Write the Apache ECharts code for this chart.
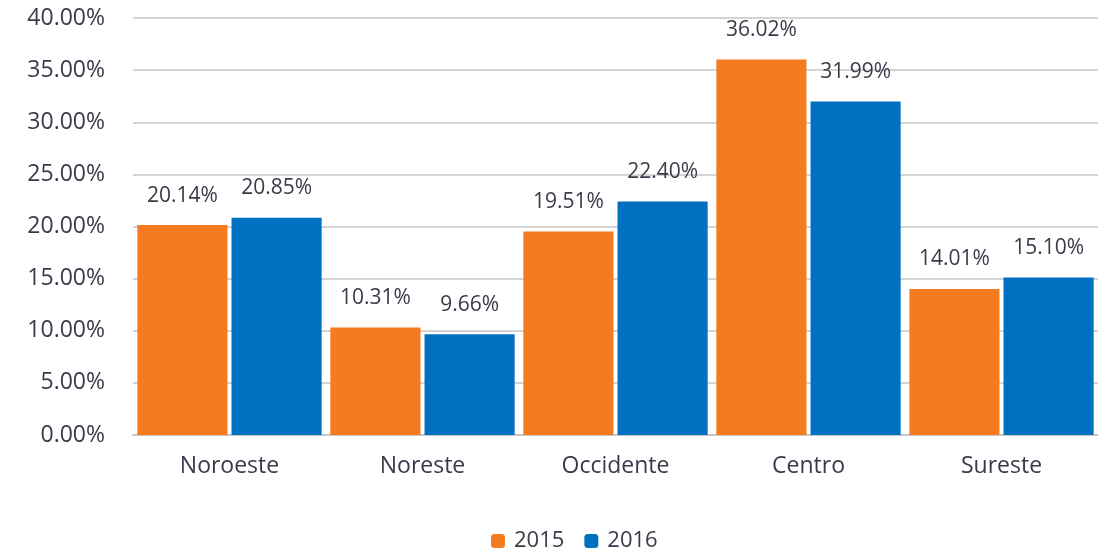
<!DOCTYPE html>
<html>
<head>
<meta charset="utf-8">
<script src="https://cdn.jsdelivr.net/npm/echarts@6/dist/echarts.min.js"></script>
<style>
  html, body { margin: 0; padding: 0; background: #fff; }
  #chart { width: 1098px; height: 555px; }
</style>
</head>
<body>
<div id="chart"></div>
<script>
// datos
const regiones = ['Noroeste', 'Noreste', 'Occidente', 'Centro', 'Sureste'];
const anios = ['2015', '2016'];
const valores2015 = [20.14, 10.31, 19.51, 36.02, 14.01];
const valores2016 = [20.85, 9.66, 22.40, 31.99, 15.10];

const colores = ['#F47B20', '#0070C0'];
const textoColor = '#3a3a4a';
const fuente = 'Open Sans';

let myChart = echarts.init(document.getElementById('chart'));

function serie(nombre, datos, color) {
  return {
    name: nombre,
    type: 'bar',
    data: datos,
    barGap: '4.5%',
    barCategoryGap: '4.5%',
    itemStyle: { color: color },
    label: {
      show: true,
      position: 'top',
      distance: 19,
      color: textoColor,
      fontFamily: fuente,
      fontSize: 21,
      formatter: p => p.value.toFixed(2) + '%'
    }
  };
}

myChart.setOption({
  animation: false,
  textStyle: { fontFamily: fuente },
  grid: { left: 133, right: 0, top: 18, bottom: 120 },
  legend: {
    bottom: -2,
    left: 486,
    itemWidth: 14,
    itemHeight: 14,
    itemGap: 20,
    textStyle: { color: textoColor, fontSize: 22, fontFamily: fuente, padding: [0, 0, 0, 4] },
    data: anios
  },
  xAxis: {
    type: 'category',
    data: regiones,
    axisTick: { show: false },
    axisLine: { lineStyle: { color: '#c8c8c8', width: 2 } },
    axisLabel: { color: textoColor, fontSize: 23, fontFamily: fuente, margin: 20 }
  },
  yAxis: {
    type: 'value',
    min: 0,
    max: 40,
    interval: 5,
    axisLine: { show: false },
    axisTick: { show: false },
    splitLine: { lineStyle: { color: '#d4d4d4', width: 2 } },
    axisLabel: {
      color: textoColor,
      fontSize: 23,
      fontFamily: fuente,
      margin: 28,
      formatter: v => v.toFixed(2) + '%'
    }
  },
  series: [
    serie(anios[0], valores2015, colores[0]),
    serie(anios[1], valores2016, colores[1])
  ]
});
</script>
</body>
</html>
